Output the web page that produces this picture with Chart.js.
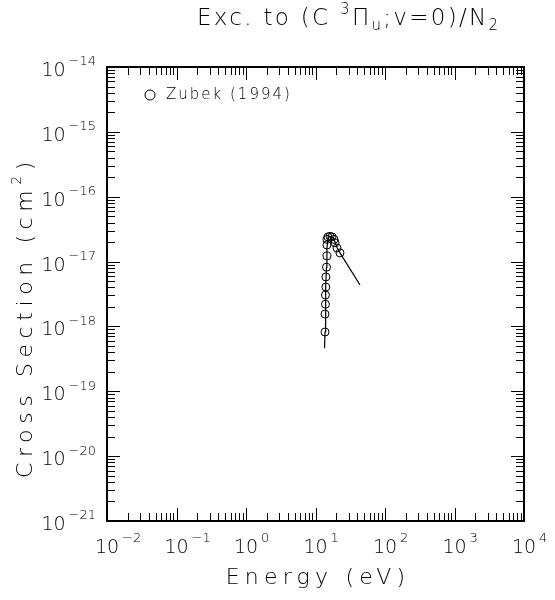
<!DOCTYPE html>
<html>
<head>
<meta charset="utf-8">
<script src="https://cdn.jsdelivr.net/npm/chart.js@4"></script>
<style>
  html, body { margin: 0; padding: 0; background: #fff; }
  #wrap { width: 555px; height: 600px; }
</style>
</head>
<body>
<div id="wrap"><canvas id="chart" width="555" height="600"></canvas></div>
<script>
// Zubek (1994) measured points
const energyZubek = [13.7, 13.7, 13.9, 13.9, 14.1, 14.1, 14.4, 14.6, 14.6, 14.6, 15.1, 16.2, 17.3, 18.5, 19.1, 20.4, 22.5];
const sigmaZubek = [8.2e-19, 1.55e-18, 2.2e-18, 3.05e-18, 4.05e-18, 5.8e-18, 8.2e-18, 1.22e-17, 1.8e-17, 2.2e-17, 2.4e-17, 2.45e-17, 2.4e-17, 2.2e-17, 1.95e-17, 1.62e-17, 1.36e-17];

// recommended curve
const energyFit = [13.5, 13.7, 13.9, 14.1, 14.4, 14.6, 15.1, 16.2, 17.3, 18.5, 20.4, 22.5, 43.7];
const sigmaFit = [4.6e-19, 8.2e-19, 2.2e-18, 4.05e-18, 8.2e-18, 1.6e-17, 2.3e-17, 2.45e-17, 2.4e-17, 2.2e-17, 1.65e-17, 1.36e-17, 4.35e-18];

const xTickExps = [-2, -1, 0, 1, 2, 3, 4];
const yTickExps = [-21, -20, -19, -18, -17, -16, -15, -14];

const FONT = "'DejaVu Sans'";

const toPoints = function (xs, ys) {
  return xs.map(function (x, i) { return { x: x, y: ys[i] }; });
};

// draws "10" with a raised exponent; anchor: 'center' or 'right'
const drawPow = function (ctx, x, y, exp, anchor) {
  const expText = String(exp).replace('-', '\u2212');
  ctx.font = '200 19px ' + FONT;
  const bw = ctx.measureText('10').width;
  ctx.font = '200 13px ' + FONT;
  const ew = ctx.measureText(expText).width;
  const left = anchor === 'right' ? x - (bw + 3 + ew) : x - bw / 2;
  ctx.textAlign = 'left';
  ctx.textBaseline = 'middle';
  ctx.font = '200 19px ' + FONT;
  ctx.fillText('10', left, y);
  ctx.font = '200 13px ' + FONT;
  ctx.fillText(expText, left + bw + 3, y - 9);
};

// text pieces: [text, 'n' | 'sup' | 'sub'], drawn from a left edge
const drawRich = function (ctx, parts, x, cy, size, spacing) {
  const fontFor = function (kind) {
    return '200 ' + (kind === 'n' ? size : Math.round(size * 0.65)) + 'px ' + FONT;
  };
  ctx.letterSpacing = spacing + 'px';
  ctx.textAlign = 'left';
  ctx.textBaseline = 'middle';
  parts.forEach(function (p) {
    ctx.font = fontFor(p[1]);
    const dy = p[1] === 'sup' ? -size * 0.4 : (p[1] === 'sub' ? size * 0.3 : 0);
    ctx.fillText(p[0], x, cy + dy);
    x += ctx.measureText(p[0]).width;
  });
  ctx.letterSpacing = '0px';
};

const richWidth = function (ctx, parts, size, spacing) {
  ctx.letterSpacing = spacing + 'px';
  let total = 0;
  parts.forEach(function (p) {
    ctx.font = '200 ' + (p[1] === 'n' ? size : Math.round(size * 0.65)) + 'px ' + FONT;
    total += ctx.measureText(p[0]).width;
  });
  ctx.letterSpacing = '0px';
  return total;
};

const framePlugin = {
  id: 'frame',
  afterDraw: function (chart) {
    const ctx = chart.ctx;
    const area = chart.chartArea;
    const xs = chart.scales.x;
    const ys = chart.scales.y;
    ctx.save();
    ctx.strokeStyle = '#000';
    ctx.fillStyle = '#000';

    // frame
    ctx.lineWidth = 2;
    ctx.strokeRect(area.left, area.top, area.right - area.left, area.bottom - area.top);

    // ticks on all four sides
    ctx.lineWidth = 1;
    ctx.beginPath();
    xTickExps.forEach(function (e, i) {
      for (let m = 1; m <= 9; m++) {
        if (i === xTickExps.length - 1 && m > 1) break;
        const px = Math.round(xs.getPixelForValue(m * Math.pow(10, e))) + 0.5;
        const len = m === 1 ? 13 : 8;
        ctx.moveTo(px, area.bottom); ctx.lineTo(px, area.bottom - len);
        ctx.moveTo(px, area.top); ctx.lineTo(px, area.top + len);
      }
    });
    yTickExps.forEach(function (e, i) {
      for (let m = 1; m <= 9; m++) {
        if (i === yTickExps.length - 1 && m > 1) break;
        const py = Math.round(ys.getPixelForValue(m * Math.pow(10, e))) + 0.5;
        const len = m === 1 ? 13 : 8;
        ctx.moveTo(area.left, py); ctx.lineTo(area.left + len, py);
        ctx.moveTo(area.right, py); ctx.lineTo(area.right - len, py);
      }
    });
    ctx.stroke();

    // tick labels
    xTickExps.forEach(function (e) {
      drawPow(ctx, xs.getPixelForValue(Math.pow(10, e)), area.bottom + 27, e, 'center');
    });
    yTickExps.forEach(function (e) {
      drawPow(ctx, 96, ys.getPixelForValue(Math.pow(10, e)) + 4, e, 'right');
    });

    // titles
    const title = [['Exc. to (C ', 'n'], ['3', 'sup'], ['\u03a0', 'n'], ['u', 'sub'], [';v=0)/N', 'n'], ['2', 'sub']];
    drawRich(ctx, title, 197, 19, 23, 2.3);
    const xTitle = [['Energy (eV)', 'n']];
    drawRich(ctx, xTitle, 318 - richWidth(ctx, xTitle, 22, 5.2) / 2, 578, 22, 5.2);
    const yTitle = [['Cross Section (cm', 'n'], ['2', 'sup'], [')', 'n']];
    ctx.save();
    ctx.translate(26, 317);
    ctx.rotate(-Math.PI / 2);
    drawRich(ctx, yTitle, -richWidth(ctx, yTitle, 22, 5.6) / 2, 0, 22, 5.6);
    ctx.restore();

    // legend
    ctx.lineWidth = 1;
    ctx.beginPath();
    ctx.arc(150, 95, 5, 0, Math.PI * 2);
    ctx.stroke();
    ctx.font = '200 15px ' + FONT;
    ctx.letterSpacing = '2px';
    ctx.textAlign = 'left';
    ctx.textBaseline = 'middle';
    ctx.fillText('Zubek (1994)', 166, 95);
    ctx.restore();
  }
};

new Chart(document.getElementById('chart'), {
  type: 'scatter',
  data: {
    datasets: [{
      label: 'Zubek (1994)',
      data: toPoints(energyZubek, sigmaZubek),
      showLine: false,
      pointStyle: 'circle',
      pointRadius: 4,
      borderColor: '#000',
      backgroundColor: 'rgba(0,0,0,0)',
      borderWidth: 1
    }, {
      label: 'fit',
      data: toPoints(energyFit, sigmaFit),
      showLine: true,
      pointRadius: 0,
      borderColor: '#000',
      borderWidth: 1.2,
      tension: 0
    }]
  },
  options: {
    responsive: false,
    animation: false,
    layout: { padding: { left: 107, top: 67, right: 31, bottom: 79 } },
    plugins: { legend: { display: false }, tooltip: { enabled: false } },
    scales: {
      x: { type: 'logarithmic', min: 1e-2, max: 1e4, display: false },
      y: { type: 'logarithmic', min: 1e-21, max: 1e-14, display: false }
    }
  },
  plugins: [framePlugin]
});
</script>
</body>
</html>
